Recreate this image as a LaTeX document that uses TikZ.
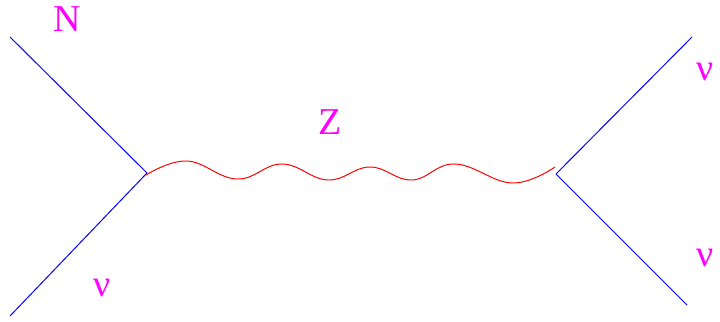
\documentclass[tikz,border=0pt]{standalone}
\usepackage{fontspec}
\setmainfont{Liberation Serif}
\usetikzlibrary{positioning, calc}
\definecolor{cM}{RGB}{255,0,255}
\definecolor{cB}{RGB}{0,0,255}
\definecolor{cR}{RGB}{255,0,0}

\begin{document}
\begin{tikzpicture}[x=0.025cm, y=-0.025cm, fermion/.style={draw=cB, line width=0.7pt}, boson/.style={draw=cR, line width=0.7pt}, lbl/.style={text=cM, font=\fontsize{27}{30}\selectfont, inner sep=0pt}]
    \useasboundingbox (0,0) rectangle (720,321);
    % vertices and outer ends
    \coordinate (VL) at (147,173);
    \coordinate (VR) at (556,174);
    \coordinate (ZL) at (146,175);
    \coordinate (ZR) at (555,167);
    \coordinate (NL) at (10,37);
    \coordinate (NuL) at (10,316);
    \coordinate (NuR1) at (692,37);
    \coordinate (NuR2) at (687,305);

    \path[fermion]
    (NL) edge (VL)
    (VL) edge (NuL)
    (VR) edge (NuR1)
         edge (NuR2);

    % Z propagator
    \draw[boson] plot[smooth, tension=0.7] coordinates {(ZL) (187,161) (237,179) (282,164) (328,180) (370,167) (412,180) (455,164) (512,183) (ZR)};

    \node[lbl] (labN) at (67,19) {N};
    \node[lbl] (labNuL) at (102,288) {ν};
    \node[lbl] (labZ) at (330,122) {Z};
    \node[lbl] (labNuR1) at (705,72) {ν};
    \node[lbl] (labNuR2) at (705,258) {ν};
\end{tikzpicture}
\end{document}
